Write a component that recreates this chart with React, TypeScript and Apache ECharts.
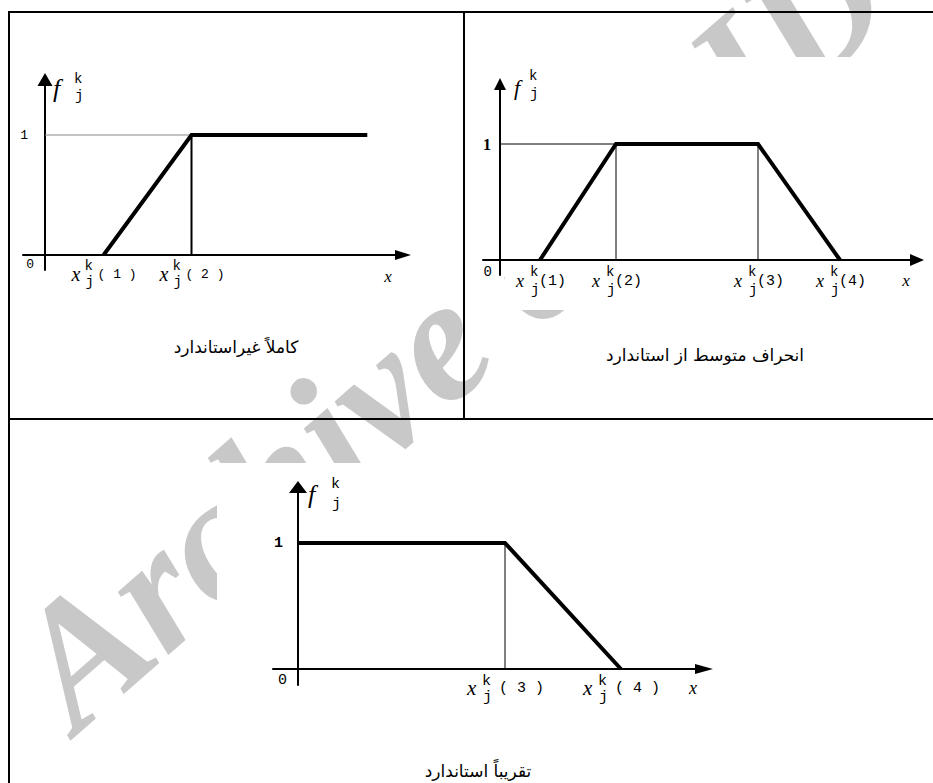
import React, { useEffect, useRef } from 'react';
import * as echarts from 'echarts';

// ---- data (abstract x units, membership 0..1) ----
const panel1X = [2, 5, 11];
const panel1Y = [0, 1, 1];
const panel2X = [1, 2.9, 6.45, 8.5];
const panel2Y = [0, 1, 1, 0];
const panel3X = [0, 5, 7.8];
const panel3Y = [1, 1, 0];

const panel1TickX = [2, 5];
const panel1TickText = ['1', '2'];
const panel2TickX = [1, 2.9, 6.45, 8.5];
const panel2TickText = ['1', '2', '3', '4'];
const panel3TickX = [5, 7.8];
const panel3TickText = ['3', '4'];

const captions = ['کاملاً غیراستاندارد', 'انحراف متوسط از استاندارد', 'تقریباً استاندارد'];
const watermarkText = 'Archive of SID';

const MONO = "'Liberation Mono', 'DejaVu Sans Mono', monospace";
const SERIF = "'Liberation Serif', serif";
const FA = "'DejaVu Sans', sans-serif";

// ---- layout (pixels) ----
const LAYOUT = [
  {
    ox: 45, oy: 255, ux: 29.3, uy: 120, xStart: 23, xTip: 411, xArrow: [10, 16], yTip: 73, yBottom: 270, yArrow: [15, 13],
    axisW: 2, thick: 4,
    lx: { dx: -32, dy: 19, font: `italic 20px ${SERIF}` }, lk: { dx: -19, dy: 11 }, lj: { dx: -18, dy: 27 }, lp: { dx: -6, dy: 19, spaced: true },
    subFont: `14px ${MONO}`, parenFont: `13px ${MONO}`,
    f: { dx: 8, dy: 15, kdx: 29, kdy: 6, jdx: 30, jdy: 23, font: `italic 26px ${SERIF}` },
    one: { dx: -17, font: `13px ${MONO}` }, zero: { dx: -11, dy: 9, font: `13px ${MONO}` },
    name: { dx: -23, dy: 21, font: `italic 17px ${SERIF}` },
    caption: [236, 347],
  },
  {
    ox: 500, oy: 260, ux: 40, uy: 116, xStart: 483, xTip: 924, xArrow: [12, 14], yTip: 78, yBottom: 275, yArrow: [12, 12],
    axisW: 2, thick: 4,
    lx: { dx: -24, dy: 21, font: `italic 18px ${SERIF}` }, lk: { dx: -10, dy: 12 }, lj: { dx: -9, dy: 30 }, lp: { dx: -1, dy: 21, spaced: false },
    subFont: `14px ${MONO}`, parenFont: `15px ${MONO}`,
    f: { dx: 14, dy: 9, kdx: 29, kdy: -2, jdx: 30, jdy: 16, font: `italic 22px ${SERIF}` },
    one: { dx: -9, font: `bold 16px ${SERIF}` }, zero: { dx: -8, dy: 12, font: `14px ${MONO}` },
    name: { dx: -18, dy: 20, font: `italic 17px ${SERIF}` },
    caption: [705, 355],
  },
  {
    ox: 298, oy: 669, ux: 41.4, uy: 126, xStart: 273, xTip: 713, xArrow: [10, 18], yTip: 481, yBottom: 685, yArrow: [18, 12],
    axisW: 2, thick: 4,
    lx: { dx: -38, dy: 19, font: `italic 21px ${SERIF}` }, lk: { dx: -23, dy: 12 }, lj: { dx: -22, dy: 28 }, lp: { dx: -6, dy: 19, spaced: true },
    subFont: `15px ${MONO}`, parenFont: `15px ${MONO}`,
    f: { dx: 10, dy: 13, kdx: 33, kdy: 3, jdx: 34, jdy: 23, font: `italic 26px ${SERIF}` },
    one: { dx: -15, font: `bold 15px ${MONO}` }, zero: { dx: -11, dy: 11, font: `15px ${MONO}` },
    name: { dx: -20, dy: 19, font: `italic 18px ${SERIF}` },
    caption: [478, 771],
  },
];

const PANELS = [
  { xs: panel1X, ys: panel1Y, tickX: panel1TickX, tickText: panel1TickText },
  { xs: panel2X, ys: panel2Y, tickX: panel2TickX, tickText: panel2TickText },
  { xs: panel3X, ys: panel3Y, tickX: panel3TickX, tickText: panel3TickText },
];

const zip = (xs: number[], ys: number[]) => xs.map((x, i) => [x, ys[i]]);

export default function App() {
  const ref = useRef<HTMLDivElement>(null);

  useEffect(() => {
    const chart = echarts.init(ref.current!, null, { renderer: 'svg' });
    const grid: any[] = [];
    const xAxis: any[] = [];
    const yAxis: any[] = [];
    const series: any[] = [];

    const guide = (g: number, data: number[][], color: string, width: number) => ({
      type: 'line', xAxisIndex: g, yAxisIndex: g, data, symbol: 'none', silent: true, z: 2,
      lineStyle: { color, width },
    });

    LAYOUT.forEach((L, i) => {
      const xEnd = L.xTip - L.xArrow[1] / 2;
      const yTop = L.yTip + L.yArrow[1] / 2;
      grid.push({ left: L.xStart, top: yTop, width: xEnd - L.xStart, height: L.yBottom - yTop, containLabel: false, outerBoundsMode: 'none' });
      const axisCommon = {
        type: 'value', gridIndex: i,
        axisTick: { show: false }, axisLabel: { show: false }, splitLine: { show: false },
      };
      xAxis.push({
        ...axisCommon, min: (L.xStart - L.ox) / L.ux, max: (xEnd - L.ox) / L.ux,
        axisLine: { show: true, onZero: true, symbol: ['none', 'triangle'], symbolSize: L.xArrow, lineStyle: { color: '#000', width: L.axisW } },
      });
      yAxis.push({
        ...axisCommon, min: -(L.yBottom - L.oy) / L.uy, max: (L.oy - yTop) / L.uy,
        axisLine: { show: true, onZero: true, symbol: ['none', 'triangle'], symbolSize: L.yArrow, lineStyle: { color: '#000', width: L.axisW } },
      });
      const P = PANELS[i];
      series.push({
        type: 'line', xAxisIndex: i, yAxisIndex: i, data: zip(P.xs, P.ys), symbol: 'none', silent: true, z: 3,
        lineStyle: { color: '#000', width: L.thick, join: 'miter' },
      });
    });

    // guide lines
    series.push(guide(0, [[0, panel1Y[1]], [panel1X[1], panel1Y[1]]], '#8a8a8a', 1));
    series.push(guide(0, [[panel1X[1], 0], [panel1X[1], panel1Y[1]]], '#000', 2));
    series.push(guide(1, [[0, panel2Y[1]], [panel2X[1], panel2Y[1]]], '#000', 1));
    series.push(guide(1, [[panel2X[1], 0], [panel2X[1], panel2Y[1]]], '#000', 1));
    series.push(guide(1, [[panel2X[2], 0], [panel2X[2], panel2Y[2]]], '#000', 1));
    series.push(guide(2, [[panel3X[1], 0], [panel3X[1], panel3Y[1]]], '#000', 1));

    chart.setOption({
      animation: false,
      backgroundColor: '#ffffff',
      grid, xAxis, yAxis, series,
    });

    const px = (g: number, x: number, y: number) => chart.convertToPixel({ gridIndex: g } as any, [x, y]) as number[];
    const txt = (x: number, y: number, text: string, font: string, align = 'left', fill = '#000', z = 20) => ({
      type: 'text', x, y, z, silent: true,
      style: { text, font, fill, textAlign: align, textVerticalAlign: 'middle' },
    });

    const els: any[] = [];
    // watermark
    els.push({
      type: 'text', x: 38, y: 690, rotation: 0.72, z: -10, silent: true,
      style: { text: watermarkText, font: `italic bold 176px ${SERIF}`, fill: '#c8c8c8', textAlign: 'left', textVerticalAlign: 'middle' },
    });
    // opaque chart images covering the watermark
    const cover = (x: number, y: number, width: number, height: number) => ({
      type: 'rect', z: -5, silent: true, shape: { x, y, width, height }, style: { fill: '#fff' },
    });
    els.push(cover(20, 40, 440, 234));
    els.push(cover(468, 57, 460, 220));
    els.push(cover(505, 270, 423, 40));
    els.push(cover(217, 463, 520, 245));
    // borders
    const bl = (x1: number, y1: number, x2: number, y2: number) => ({
      type: 'line', z: 30, silent: true, shape: { x1, y1, x2, y2 }, style: { stroke: '#000', lineWidth: 2 },
    });
    els.push(bl(8, 12, 933, 12));
    els.push(bl(9, 11, 9, 783));
    els.push(bl(464, 12, 464, 419));
    els.push(bl(8, 419, 933, 419));

    LAYOUT.forEach((L, g) => {
      const P = PANELS[g];
      const o = px(g, 0, 0);
      const one = px(g, 0, 1);
      // x tick labels x_j^k(n)
      P.tickX.forEach((tx, k) => {
        const a = px(g, tx, 0);
        const n = P.tickText[k];
        els.push(txt(a[0] + L.lx.dx, a[1] + L.lx.dy, 'x', L.lx.font));
        els.push(txt(a[0] + L.lk.dx, a[1] + L.lk.dy, 'k', L.subFont));
        els.push(txt(a[0] + L.lj.dx, a[1] + L.lj.dy, 'j', L.subFont));
        els.push(txt(a[0] + L.lp.dx, a[1] + L.lp.dy, L.lp.spaced ? `( ${n} )` : `(${n})`, L.parenFont));
      });
      // y axis name f_j^k
      els.push(txt(o[0] + L.f.dx, L.yTip + L.f.dy, 'f', L.f.font));
      els.push(txt(o[0] + L.f.kdx, L.yTip + L.f.kdy, 'k', L.subFont));
      els.push(txt(o[0] + L.f.jdx, L.yTip + L.f.jdy, 'j', L.subFont));
      // "1" and "0"
      els.push(txt(one[0] + L.one.dx, one[1], '1', L.one.font, 'right'));
      els.push(txt(o[0] + L.zero.dx, o[1] + L.zero.dy, '0', L.zero.font, 'right'));
      // x axis name
      els.push(txt(L.xTip + L.name.dx, o[1] + L.name.dy, 'x', L.name.font, 'center'));
      // caption
      els.push(txt(L.caption[0], L.caption[1], captions[g], `17px ${FA}`, 'center'));
    });

    chart.setOption({ graphic: { elements: els } });

    return () => chart.dispose();
  }, []);

  return <div ref={ref} style={{ position: 'fixed', left: 0, top: 0, width: 933, height: 783, background: '#fff' }} />;
}
